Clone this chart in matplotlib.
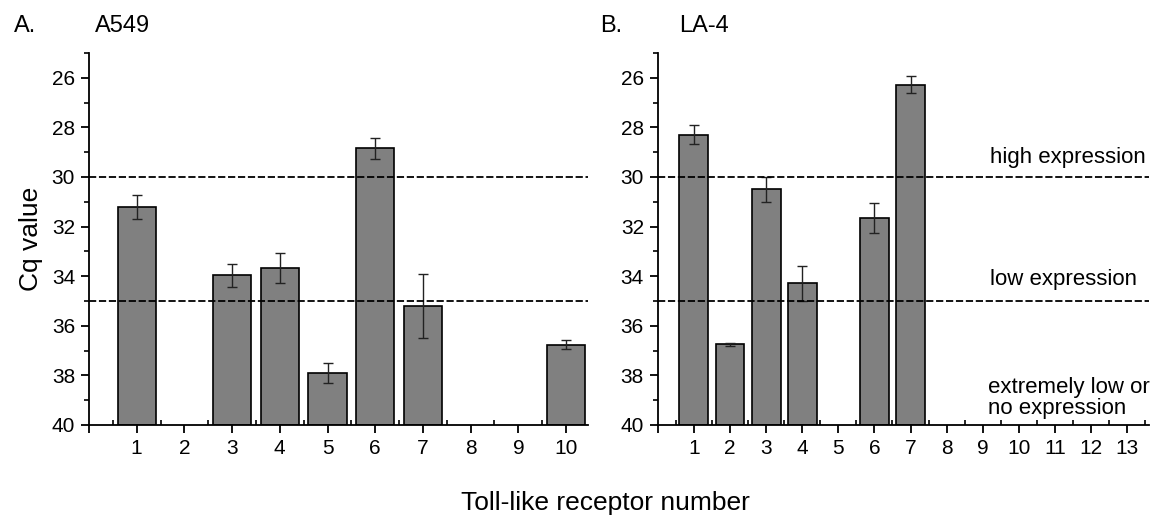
import numpy as np
import matplotlib
matplotlib.use("Agg")
import matplotlib.pyplot as plt
from matplotlib.ticker import FixedLocator

plt.rcParams['font.family'] = ['Liberation Sans', 'DejaVu Sans']

# A549 (panel A), TLR 1-10; nan = no bar
a549_tlr = [1, 2, 3, 4, 5, 6, 7, 8, 9, 10]
a549_cq = [31.22, np.nan, 33.97, 33.67, 37.9, 28.85, 35.2, np.nan, np.nan, 36.77]
a549_err = [0.49, 0, 0.46, 0.6, 0.4, 0.41, 1.3, 0, 0, 0.18]

# LA-4 (panel B), TLR 1-13
la4_tlr = [1, 2, 3, 4, 5, 6, 7, 8, 9, 10, 11, 12, 13]
la4_cq = [28.3, 36.75, 30.49, 34.29, np.nan, 31.66, 26.28,
          np.nan, np.nan, np.nan, np.nan, np.nan, np.nan]
la4_err = [0.38, 0.06, 0.5, 0.7, 0, 0.61, 0.35, 0, 0, 0, 0, 0, 0]

thresholds = [30, 35]
bar_color = '#808080'

fig = plt.figure(figsize=(11.54, 5.17), dpi=100)
axA = fig.add_axes([0.0771, 0.178, 0.432, 0.7195])
axB = fig.add_axes([0.570, 0.178, 0.4255, 0.7195])


def draw_panel(ax, tlr, cq, err, xmax):
    tlr = np.array(tlr)
    cq = np.array(cq)
    err = np.array(err)
    ok = ~np.isnan(cq)
    ax.bar(tlr[ok], cq[ok] - 40, bottom=40, width=0.8, color=bar_color,
           edgecolor='black', linewidth=1.2, zorder=2)
    ax.errorbar(tlr[ok], cq[ok], yerr=err[ok], fmt='none', ecolor='#222222',
                elinewidth=1.0, capsize=3.5, capthick=1.0, zorder=3)
    for t in thresholds:
        ax.axhline(t, color='black', linestyle=(0, (4, 1.5)), linewidth=1.3, zorder=4)
    ax.set_ylim(40, 25)
    ax.set_xlim(0, xmax)
    ax.spines['top'].set_visible(False)
    ax.spines['right'].set_visible(False)
    ax.spines['left'].set_linewidth(1.3)
    ax.spines['bottom'].set_linewidth(1.3)
    ax.set_yticks(np.arange(26, 41, 2))
    ax.yaxis.set_minor_locator(FixedLocator(np.arange(25, 40, 2)))
    ax.xaxis.set_major_locator(FixedLocator(np.arange(0, int(xmax) + 1)))
    ax.set_xticklabels([''] + [str(i) for i in range(1, int(xmax) + 1)])
    ax.xaxis.set_minor_locator(FixedLocator(np.arange(0.5, xmax, 1)))
    ax.tick_params(axis='both', which='major', direction='out', length=6, width=1.3,
                   labelsize=15, pad=4)
    ax.tick_params(axis='y', which='minor', direction='out', length=3.5, width=1.2)
    ax.tick_params(axis='x', which='minor', direction='in', length=3.5, width=1.2)


draw_panel(axA, a549_tlr, a549_cq, a549_err, 10.45)
draw_panel(axB, la4_tlr, la4_cq, la4_err, 13.6)

axA.set_ylabel('Cq value', fontsize=19, labelpad=6)

fig.text(14 / 1154, 1 - 26 / 517, 'A.', fontsize=17, va='center')
fig.text(95 / 1154, 1 - 26 / 517, 'A549', fontsize=17, va='center')
fig.text(600 / 1154, 1 - 26 / 517, 'B.', fontsize=17, va='center')
fig.text(679 / 1154, 1 - 26 / 517, 'LA-4', fontsize=17, va='center')

axB.text(9.2, 29.2, 'high expression', fontsize=16, ha='left', va='center')
axB.text(9.2, 34.15, 'low expression', fontsize=16, ha='left', va='center')
axB.text(9.15, 38.9, 'extremely low or\nno expression', fontsize=16,
         ha='left', va='center', linespacing=1.0)

fig.text(605 / 1154, 1 - 503 / 517, 'Toll-like receptor number', fontsize=19,
         ha='center', va='center')

fig.savefig('out.png', dpi=100)
